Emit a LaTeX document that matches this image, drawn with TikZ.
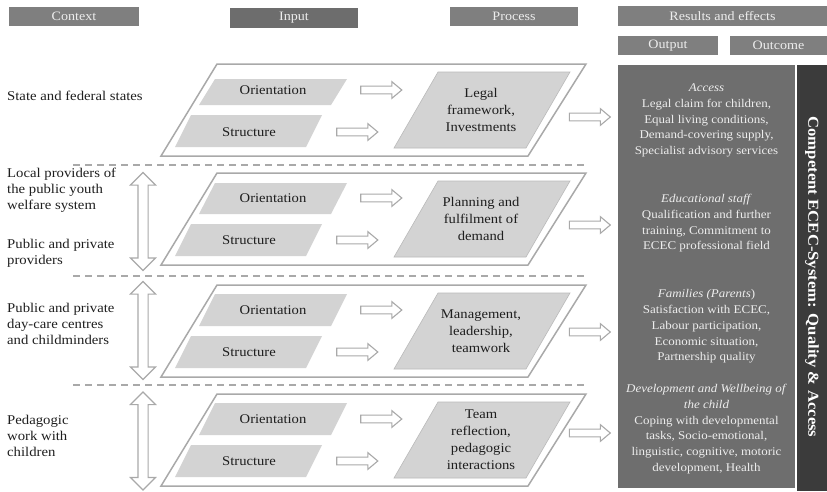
\documentclass[tikz,border=0pt]{standalone}
\usepackage{fontspec}
\setmainfont{Liberation Serif}[FakeStretch=1.1]
\usetikzlibrary{shapes.arrows}
\definecolor{hdrgray}{HTML}{7F7F7F}
\definecolor{hdrdark}{HTML}{6D6D6D}
\definecolor{hdrtext}{HTML}{EDEDED}
\definecolor{outgray}{HTML}{6E6E6E}
\definecolor{stripgray}{HTML}{3B3B3B}
\definecolor{shapegray}{HTML}{D3D3D3}
\definecolor{edgegray}{HTML}{A9A9A9}
\definecolor{inktext}{HTML}{1E1E1E}
% #1 = top of band, #2 = top offset of the orientation shape
\newcommand\bandbox[2]{%
  \draw[outerpl] (217,#1) -- (586,#1) -- (528,#1+92) -- (161,#1+92) -- cycle;
  \fill[innerpl] (215,#1+#2) -- (347,#1+#2) -- (331,#1+41) -- (199,#1+41) -- cycle;
  \fill[innerpl] (191,#1+51) -- (322,#1+51) -- (306,#1+83) -- (175,#1+83) -- cycle;
  \filldraw[procpl] (438,#1+8) -- (570,#1+8) -- (526,#1+84) -- (394,#1+84) -- cycle;
}
\begin{document}
\begin{tikzpicture}[x=1pt,y=-1pt,
  hdrbox/.style={fill=hdrgray,text=hdrtext,inner sep=0pt,font=\fontsize{12.8}{14}\selectfont},
  outerpl/.style={draw=edgegray,line width=1.5pt,fill=white,line join=miter},
  innerpl/.style={fill=shapegray},
  procpl/.style={fill=shapegray,draw=edgegray!80,line width=0.6pt},
  ctxtxt/.style={anchor=west,align=left,inner sep=0pt,text=inktext,font=\fontsize{13.4}{16}\selectfont},
  inlbl/.style={inner sep=0pt,text=inktext,font=\fontsize{13.3}{16}\selectfont},
  proclbl/.style={inner sep=0pt,align=center,text=inktext,font=\fontsize{13.3}{17}\selectfont},
  restxt/.style={inner sep=0pt,align=center,text=hdrtext,font=\fontsize{11.8}{15.7}\selectfont},
  harrow/.style={single arrow,draw=edgegray,fill=white,line width=1.1pt,minimum height=41pt,inner xsep=0pt,inner ysep=3.3pt,single arrow head extend=4.5pt,single arrow tip angle=80},
  darrow/.style={double arrow,draw=edgegray,fill=white,line width=1.1pt,rotate=90,minimum height=98pt,inner xsep=0pt,inner ysep=4.5pt,double arrow head extend=7.5pt,double arrow tip angle=90},
  sepline/.style={draw=edgegray,line width=1.3pt,dash pattern=on 7pt off 5pt}
]
\useasboundingbox (0,0) rectangle (827,491);

% headers
\node[hdrbox,minimum width=130pt,minimum height=19pt] (hctx) at (74,16.5) {Context};
\node[hdrbox,fill=hdrdark,minimum width=128pt,minimum height=20pt] (hin) at (294,18) {Input};
\node[hdrbox,minimum width=128pt,minimum height=19pt] (hproc) at (514,16.5) {Process};
\node[hdrbox,minimum width=209pt,minimum height=20pt] (hres) at (722.5,16) {Results and effects};
\node[hdrbox,minimum width=100pt,minimum height=19pt] (hout) at (668,45.5) {Output};
\node[hdrbox,minimum width=97pt,minimum height=19pt] (hoc) at (778.5,45.5) {Outcome};

% result boxes
\node[fill=outgray,minimum width=177pt,minimum height=423pt,inner sep=0pt] (outbox) at (706.5,276.5) {};
\node[fill=stripgray,minimum width=30pt,minimum height=426pt,inner sep=0pt] (strip) at (812,278) {};
\node[rotate=-90,inner sep=0pt,text=white,font=\bfseries\fontsize{15.2}{17}\selectfont] (sys) at (812,277) {Competent ECEC-System: Quality \& Access};

\node[restxt] (racc) at (706.5,120.5) {\textit{Access}\\Legal claim for children,\\Equal living conditions,\\Demand-covering supply,\\Specialist advisory services};
\node[restxt] (rstaff) at (706.5,223.5) {\textit{Educational staff}\\Qualification and further\\training, Commitment to\\ECEC professional field};
\node[restxt] (rfam) at (706.5,326.5) {\textit{Families (Parents})\\Satisfaction with ECEC,\\Labour participation,\\Economic situation,\\Partnership quality};
\node[restxt] (rdev) at (706.5,429) {\textit{Development and Wellbeing of}\\\textit{the child}\\Coping with developmental\\tasks, Socio-emotional,\\linguistic, cognitive, motoric\\development, Health};

% separators
\draw[sepline] (73,165) -- (588,165);
\draw[sepline] (73,276) -- (588,276);
\draw[sepline] (73,385) -- (588,385);

% bands
\bandbox{64}{15}
\bandbox{173}{10}
\bandbox{285}{9}
\bandbox{394}{9}

% band labels
\node[inlbl] (o1) at (273,90) {Orientation};
\node[inlbl] (s1) at (249,132) {Structure};
\node[inlbl] (o2) at (273,198) {Orientation};
\node[inlbl] (s2) at (249,240) {Structure};
\node[inlbl] (o3) at (273,310) {Orientation};
\node[inlbl] (s3) at (249,352) {Structure};
\node[inlbl] (o4) at (273,419) {Orientation};
\node[inlbl] (s4) at (249,461) {Structure};

\node[proclbl] (p1) at (481,110) {Legal\\framework,\\Investments};
\node[proclbl] (p2) at (481,219) {Planning and\\fulfilment of\\demand};
\node[proclbl] (p3) at (481,331) {Management,\\leadership,\\teamwork};
\node[proclbl] (p4) at (481,440) {Team\\reflection,\\pedagogic\\interactions};

% block arrows
\node[harrow] (ao1) at (379,90) {};
\node[harrow] (as1) at (355,132) {};
\node[harrow] (ao2) at (379,198) {};
\node[harrow] (as2) at (355,240) {};
\node[harrow] (ao3) at (379,310) {};
\node[harrow] (as3) at (355,352) {};
\node[harrow] (ao4) at (379,419) {};
\node[harrow] (as4) at (355,461) {};

\node[harrow] (r1) at (587.5,117) {};
\node[harrow] (r2) at (587.5,225) {};
\node[harrow] (r3) at (587.5,332) {};
\node[harrow] (r4) at (587.5,433) {};

\node[darrow] (d1) at (143,221.5) {};
\node[darrow] (d2) at (143,330.5) {};
\node[darrow] (d3) at (143,441) {};

% context texts
\node[ctxtxt] (c1) at (7,96) {State and federal states};
\node[ctxtxt] (c2) at (7,190) {Local providers of\\the public youth\\welfare system};
\node[ctxtxt] (c3) at (7,253) {Public and private\\providers};
\node[ctxtxt] (c4) at (7,324) {Public and private\\day-care centres\\and childminders};
\node[ctxtxt] (c5) at (7,436) {Pedagogic\\work with\\children};
\end{tikzpicture}
\end{document}
